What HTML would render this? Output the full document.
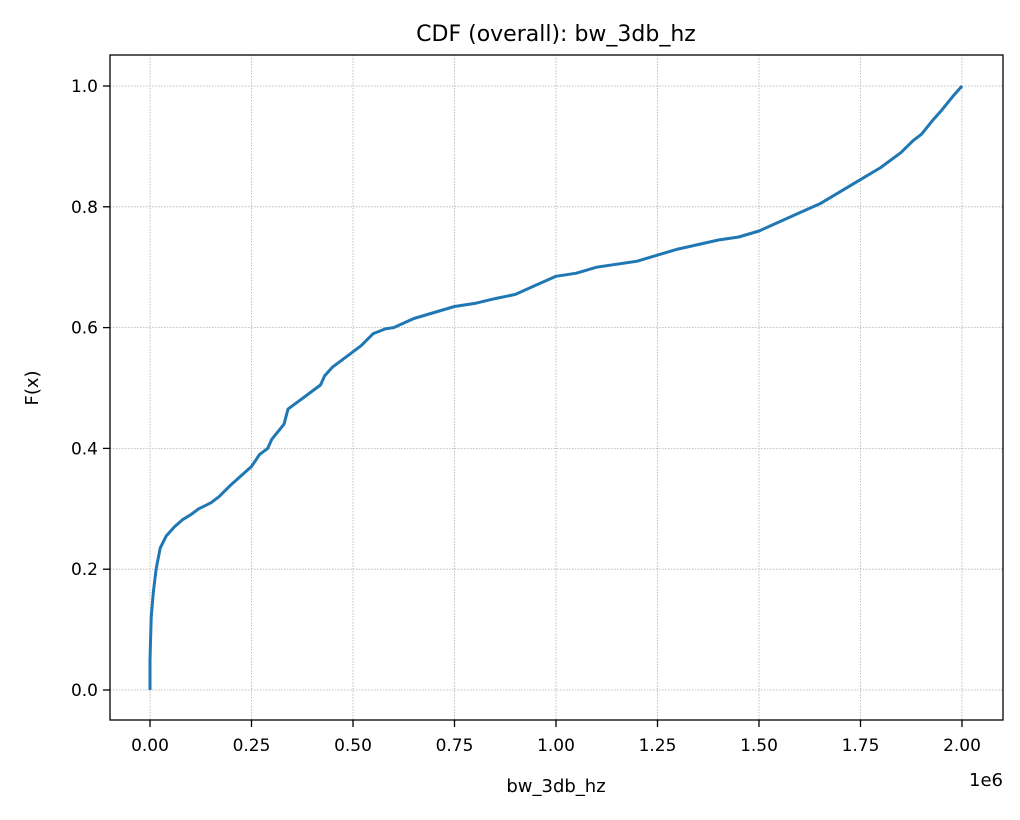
<!DOCTYPE html>
<html><head><meta charset="utf-8"><style>
body{margin:0;background:#fff;}
svg text{font-family:"DejaVu Sans","Liberation Sans",sans-serif;fill:#000;}
</style></head><body>
<svg width="1020" height="815" viewBox="0 0 1020 815">
<g id="grid"></g>
<g id="axes"></g>
<path id="line" fill="none" stroke="#1f77b4" stroke-width="3" stroke-linejoin="round"/>
<rect x="110" y="55" width="893" height="665" fill="none" stroke="#000" stroke-width="1.3"/>
<text x="556" y="41" text-anchor="middle" font-size="22">CDF (overall): bw_3db_hz</text>
<text x="556" y="792" text-anchor="middle" font-size="18">bw_3db_hz</text>
<text x="38" y="388" text-anchor="middle" font-size="18" transform="rotate(-90 38 388)">F(x)</text>
<text x="1003" y="786" text-anchor="end" font-size="18">1e6</text>
</svg>
<script>
const xVals=[0,0,0.003,0.008,0.015,0.025,0.04,0.06,0.08,0.1,0.12,0.15,0.17,0.2,0.25,0.27,0.29,0.3,0.33,0.34,0.37,0.4,0.42,0.43,0.45,0.5,0.52,0.55,0.58,0.6,0.65,0.7,0.75,0.8,0.85,0.9,0.95,1.0,1.05,1.1,1.2,1.25,1.3,1.4,1.45,1.5,1.55,1.6,1.65,1.7,1.75,1.8,1.85,1.88,1.9,1.93,1.95,1.98,2.0];
const yVals=[0,0.05,0.12,0.16,0.2,0.235,0.255,0.27,0.282,0.29,0.3,0.31,0.32,0.34,0.37,0.39,0.4,0.415,0.44,0.465,0.48,0.495,0.505,0.52,0.535,0.56,0.57,0.59,0.598,0.6,0.615,0.625,0.635,0.64,0.648,0.655,0.67,0.685,0.69,0.7,0.71,0.72,0.73,0.745,0.75,0.76,0.775,0.79,0.805,0.825,0.845,0.865,0.89,0.91,0.92,0.945,0.96,0.985,1.0];
const xTicks=[0,0.25,0.5,0.75,1.0,1.25,1.5,1.75,2.0];
const xTickLabels=["0.00","0.25","0.50","0.75","1.00","1.25","1.50","1.75","2.00"];
const yTicks=[0,0.2,0.4,0.6,0.8,1.0];
const yTickLabels=["0.0","0.2","0.4","0.6","0.8","1.0"];
const X=v=>150+v*406, Y=v=>690-v*604;
const NS="http://www.w3.org/2000/svg";
const grid=document.getElementById('grid'), axes=document.getElementById('axes');
function mk(tag,attrs,parent,txt){const e=document.createElementNS(NS,tag);for(const k in attrs)e.setAttribute(k,attrs[k]);if(txt!==undefined)e.textContent=txt;parent.appendChild(e);return e;}
xTicks.forEach((t,i)=>{
 const g=mk('line',{x1:X(t),x2:X(t),y1:55,y2:720,stroke:'#b0b0b0','stroke-width':0.8,'stroke-dasharray':'1.5,1.5'},grid);
 
 
 const tk=mk('line',{x1:X(t),x2:X(t),y1:720,y2:727,stroke:'#000','stroke-width':1.3},axes);
 
 
 const lb=mk('text',{x:X(t),y:751,'text-anchor':'middle','font-size':'17'},axes,xTickLabels[i]);
 
 
});
yTicks.forEach((t,i)=>{
 const g=mk('line',{x1:110,x2:1003,y1:Y(t),y2:Y(t),stroke:'#b0b0b0','stroke-width':0.8,'stroke-dasharray':'1.5,1.5'},grid);
 
 
 const tk=mk('line',{x1:103,x2:110,y1:Y(t),y2:Y(t),stroke:'#000','stroke-width':1.3},axes);
 
 
 const lb=mk('text',{x:98,y:Y(t)+6,'text-anchor':'end','font-size':'17'},axes,yTickLabels[i]);
 
 
});
document.getElementById('line').setAttribute('d',xVals.map((v,i)=>(i?'L':'M')+X(v).toFixed(1)+','+Y(yVals[i]).toFixed(1)).join(''));
</script>
</body></html>
